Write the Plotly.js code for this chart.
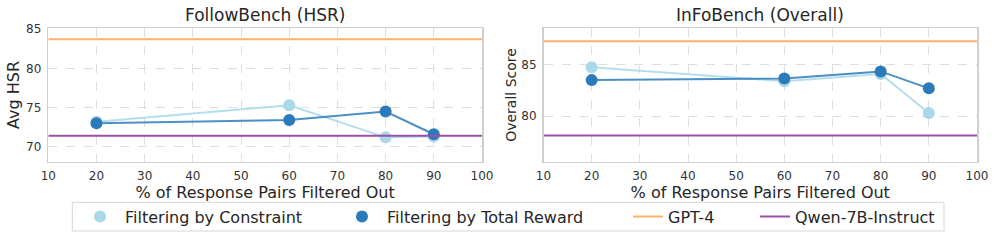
<!DOCTYPE html>
<html>
<head>
<meta charset="utf-8">
<script src="https://cdn.plot.ly/plotly-3.0.1.min.js"></script>
<style>
  html, body { margin: 0; padding: 0; background: #ffffff; }
  #chart { width: 997px; height: 245px; }
</style>
</head>
<body>
<div id="chart"></div>
<script>
// ---- data ----
const pctFiltered = [20, 60, 80, 90];
const followConstraint = [73.2, 75.3, 71.2, 71.3];
const followReward = [73.0, 73.4, 74.5, 71.6];
const infoConstraint = [84.75, 83.4, 84.1, 80.3];
const infoReward = [83.5, 83.65, 84.35, 82.7];
const gpt4Scores = [83.7, 87.3];      // FollowBench, InFoBench
const qwenScores = [71.4, 78.1];      // FollowBench, InFoBench
const xTicks = [10, 20, 30, 40, 50, 60, 70, 80, 90, 100];
const yTicksFollow = [70, 75, 80, 85];
const yTicksInfo = [80, 85];
const panelTitles = ["FollowBench (HSR)", "InFoBench (Overall)"];
const yTitles = ["Avg HSR", "Overall Score"];
const xTitle = "% of Response Pairs Filtered Out";
const seriesNames = ["Filtering by Constraint", "Filtering by Total Reward", "GPT-4", "Qwen-7B-Instruct"];

// ---- styles ----
const W = 997, H = 245;
const FONT = "DejaVu Sans, sans-serif";
const TXT = "#262626";
const cLight = "#a8d8ea";
const cLightLine = "rgba(168,216,234,0.85)";
const cDark = "#2b7bba";
const cDarkLine = "rgba(43,123,186,0.85)";
const cOrange = "#ffb26b";
const cPurple = "#9b4fa6";

const px = v => v / W;
const py = v => 1 - v / H;
const xSpan = [xTicks[0], xTicks[xTicks.length - 1]];

function series(x, y, color, lineColor, xa, ya, name) {
  return {
    x: x, y: y, xaxis: xa, yaxis: ya, name: name, showlegend: false,
    type: "scatter", mode: "lines+markers",
    line: { color: lineColor, width: 2 },
    marker: { color: color, size: 12 },
    hoverinfo: "x+y"
  };
}
function hline(v, color, xa, ya, name, legendId, show) {
  return {
    x: xSpan, y: [v, v], xaxis: xa, yaxis: ya, name: name,
    type: "scatter", mode: "lines", showlegend: show, legend: legendId,
    line: { color: color, width: 2 }, hoverinfo: "y"
  };
}

const traces = [
  series(pctFiltered, followConstraint, cLight, cLightLine, "x", "y", seriesNames[0]),
  series(pctFiltered, followReward, cDark, cDarkLine, "x", "y", seriesNames[1]),
  series(pctFiltered, infoConstraint, cLight, cLightLine, "x2", "y2", seriesNames[0]),
  series(pctFiltered, infoReward, cDark, cDarkLine, "x2", "y2", seriesNames[1]),
  hline(gpt4Scores[0], cOrange, "x", "y", seriesNames[2], "legend3", true),
  hline(qwenScores[0], cPurple, "x", "y", seriesNames[3], "legend4", true),
  hline(gpt4Scores[1], cOrange, "x2", "y2", seriesNames[2], "legend3", false),
  hline(qwenScores[1], cPurple, "x2", "y2", seriesNames[3], "legend4", false),
  // legend-only marker entries
  { x: [null], y: [null], type: "scatter", mode: "markers", name: seriesNames[0],
    marker: { color: cLight, size: 12 }, legend: "legend", showlegend: true, hoverinfo: "skip" },
  { x: [null], y: [null], type: "scatter", mode: "markers", name: seriesNames[1],
    marker: { color: cDark, size: 12 }, legend: "legend2", showlegend: true, hoverinfo: "skip" }
];

function xAxis(domain, anchor) {
  return {
    domain: domain, anchor: anchor, range: xSpan, tickvals: xTicks,
    showgrid: true, gridcolor: "#dedede", griddash: "dash", gridwidth: 1,
    showline: true, mirror: true, linecolor: "#cfcfcf", linewidth: 1.5,
    zeroline: false, ticks: "", ticklabelstandoff: 2,
    tickfont: { family: FONT, size: 12, color: "#333333" },
    title: { text: xTitle, font: { family: FONT, size: 16, color: TXT }, standoff: 3 },
    automargin: false, fixedrange: true
  };
}
function yAxis(domain, anchor, range, ticks, title, tsize, standoff) {
  return {
    domain: domain, anchor: anchor, range: range, tickvals: ticks,
    showgrid: true, gridcolor: "#dedede", griddash: "dash", gridwidth: 1,
    showline: true, mirror: true, linecolor: "#cfcfcf", linewidth: 1.5,
    zeroline: false, ticks: "", ticklabelstandoff: 3,
    tickfont: { family: FONT, size: 12, color: "#333333" },
    title: { text: title, font: { family: FONT, size: tsize, color: TXT }, standoff: standoff },
    automargin: false, fixedrange: true
  };
}

const yDom = [py(161.7), py(28.3)];
const legendY = py(216.5);
function legendAt(textStart, iw) {
  return {
    x: px(textStart - (iw + 10)), xanchor: "left", y: legendY, yanchor: "middle",
    orientation: "h", bgcolor: "rgba(0,0,0,0)", borderwidth: 0, itemwidth: iw,
    font: { family: FONT, size: 16, color: TXT }, itemclick: false, itemdoubleclick: false
  };
}

const layout = {
  width: W, height: H, autosize: false,
  margin: { l: 0, r: 0, t: 0, b: 0, pad: 0 },
  paper_bgcolor: "#ffffff", plot_bgcolor: "#ffffff",
  font: { family: FONT, color: TXT },
  xaxis: xAxis([px(48.3), px(482)], "y"),
  yaxis: yAxis(yDom, "x", [68.1, 85.1], yTicksFollow, yTitles[0], 16, 2),
  xaxis2: xAxis([px(543.5), px(977)], "y2"),
  yaxis2: yAxis(yDom, "x2", [75.55, 88.55], yTicksInfo, yTitles[1], 14, 1),
  showlegend: true,
  legend: legendAt(125, 40),
  legend2: legendAt(387, 40),
  legend3: legendAt(668, 30),
  legend4: legendAt(795, 30),
  annotations: [
    { text: panelTitles[0], xref: "paper", yref: "paper", x: px(265.2), y: py(15.5),
      xanchor: "center", yanchor: "middle", showarrow: false,
      font: { family: FONT, size: 17, color: TXT } },
    { text: panelTitles[1], xref: "paper", yref: "paper", x: px(760.3), y: py(15.5),
      xanchor: "center", yanchor: "middle", showarrow: false,
      font: { family: FONT, size: 17, color: TXT } }
  ],
  shapes: [
    { type: "rect", xref: "paper", yref: "paper", x0: px(72.3), x1: px(944), y0: py(231), y1: py(202.3),
      line: { color: "#d6d6d6", width: 1 }, fillcolor: "rgba(255,255,255,0)", layer: "below" }
  ]
};

Plotly.newPlot("chart", traces, layout, { staticPlot: true, displayModeBar: false });
</script>
</body>
</html>
